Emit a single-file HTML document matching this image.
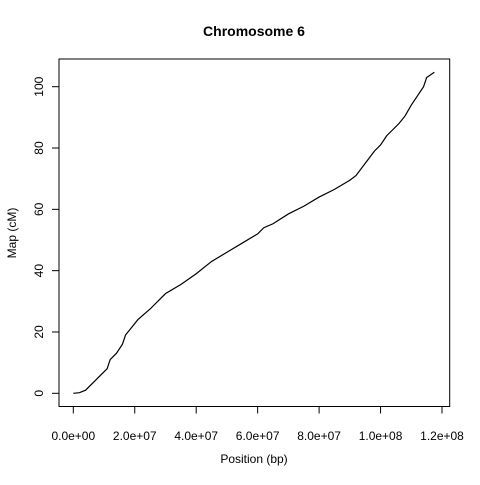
<!DOCTYPE html>
<html><head><meta charset="utf-8"><style>
html,body{margin:0;padding:0;background:#fff;}
svg text{font-family:"Liberation Sans",Arial,sans-serif;fill:#000;}
</style></head><body>
<svg id="chart" width="480" height="480" viewBox="0 0 480 480" xmlns="http://www.w3.org/2000/svg">
<rect width="480" height="480" fill="#fff"/>
<text x="254" y="36" text-anchor="middle" font-size="14" font-weight="bold">Chromosome 6</text>
<rect x="59" y="59" width="390.7" height="347.5" fill="none" stroke="#000" stroke-width="1"/>
<g id="xaxis"></g>
<g id="yaxis"></g>
<text x="254" y="463" text-anchor="middle" font-size="12">Position (bp)</text>
<text transform="translate(16,233) rotate(-90)" text-anchor="middle" font-size="12">Map (cM)</text>
<path id="line" fill="none" stroke="#000" stroke-width="1.2"/>
</svg>
<script>
const positionsMbp=[0,2,4,6,8,10,11,12,14,16,17,19,21,25,30,35,40,45,50,55,60,62,65,70,75,80,85,90,92,95,98,100,102,104,106,108,110,112,114,115,117.5];
const mapCM=[0,0.2,1,3,5,7,8,11,13,16,19,21.5,24,27.5,32.5,35.5,39,43,46,49,52,54,55.3,58.5,61,64,66.5,69.5,71,75,79,81,84,86,88,90.5,94,97,100,103,104.7];
const xTicks=[0,2e7,4e7,6e7,8e7,1e8,1.2e8];
const xTickLabels=["0.0e+00","2.0e+07","4.0e+07","6.0e+07","8.0e+07","1.0e+08","1.2e+08"];
const yTicks=[0,20,40,60,80,100];
const NS="http://www.w3.org/2000/svg";
function sx(v){return 73.3+v/1.2e8*368.7;}
function sy(v){return 393.3-v*3.066;}
const xa=document.getElementById('xaxis'),ya=document.getElementById('yaxis');
function el(t,a){const e=document.createElementNS(NS,t);for(const k in a)e.setAttribute(k,a[k]);return e;}
let l=el('line',{x1:sx(0),x2:sx(1.2e8),y1:406.5,y2:406.5,stroke:'#000'});


xa.appendChild(l);
xTicks.forEach((t,i)=>{
 const tk=el('line',{x1:sx(t),x2:sx(t),y1:406.5,y2:413.5,stroke:'#000'});
 
 
 xa.appendChild(tk);
 const tx=el('text',{x:sx(t),y:440,'text-anchor':'middle','font-size':12});
 
 
 tx.textContent=xTickLabels[i];xa.appendChild(tx);
});
let l2=el('line',{x1:59,x2:59,y1:sy(0),y2:sy(100),stroke:'#000'});


ya.appendChild(l2);
yTicks.forEach(t=>{
 const tk=el('line',{x1:52,x2:59,y1:sy(t),y2:sy(t),stroke:'#000'});
 
 
 ya.appendChild(tk);
 const tx=el('text',{transform:`translate(43,${sy(t)}) rotate(-90)`,'text-anchor':'middle','font-size':12});
 
 
 tx.textContent=String(t);ya.appendChild(tx);
});
document.getElementById('line').setAttribute('d',positionsMbp.map((p,i)=>(i?'L':'M')+sx(p*1e6).toFixed(2)+','+sy(mapCM[i]).toFixed(2)).join(''));
</script>
</body></html>
